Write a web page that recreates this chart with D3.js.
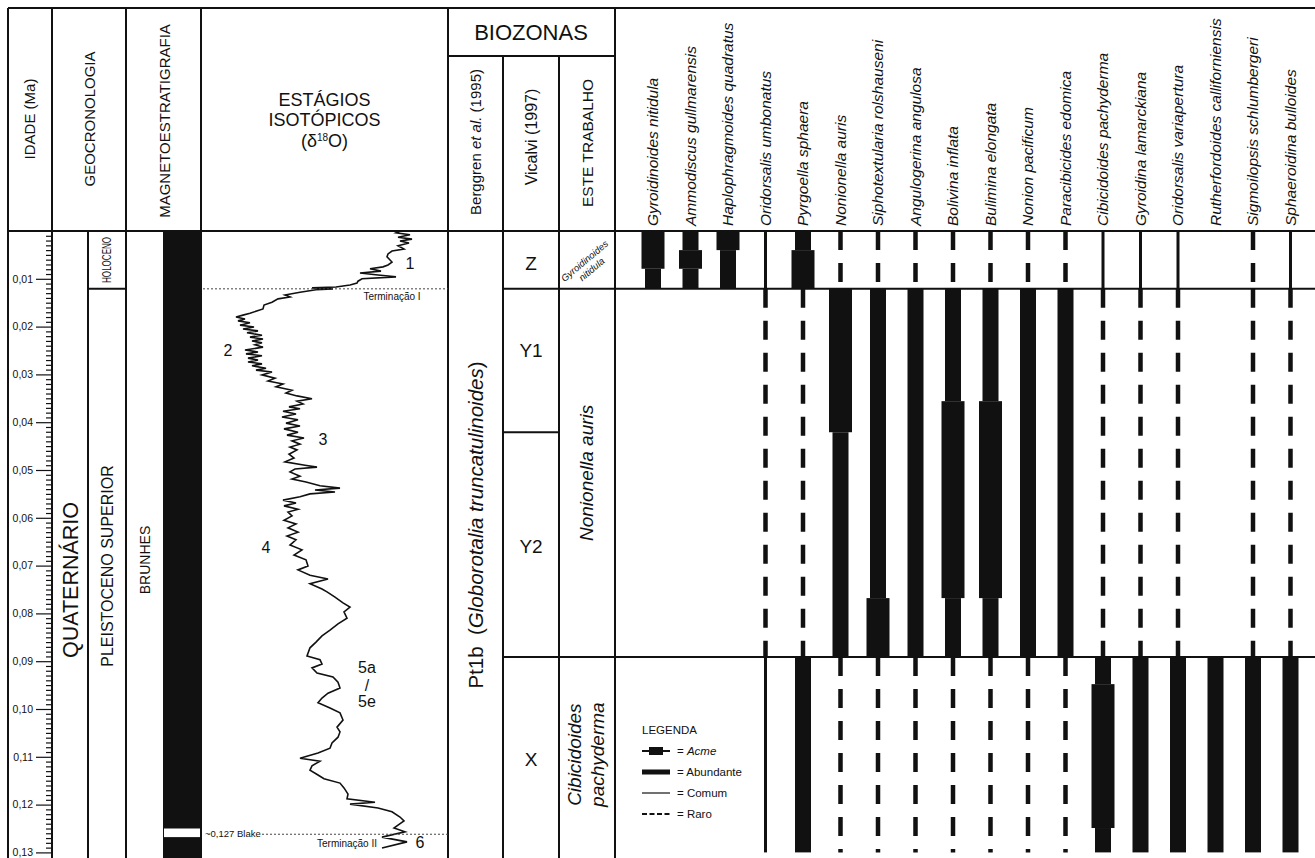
<!DOCTYPE html>
<html>
<head>
<meta charset="utf-8">
<script src="https://cdn.jsdelivr.net/npm/d3@7"></script>
<style>
  body { margin: 0; background: #fff; }
  text { font-family: "Liberation Sans", Arial, sans-serif; fill: #111; }
</style>
</head>
<body>
<svg id="chart" width="1315" height="858"></svg>
<script>
// ages in Ma
var ageTicks = [0.01, 0.02, 0.03, 0.04, 0.05, 0.06, 0.07, 0.08, 0.09, 0.10, 0.11, 0.12, 0.13];
var zoneNames = ['Z', 'Y1', 'Y2', 'X'];
var zoneTops = [0, 0.0121, 0.0421, 0.0891];
var zoneBases = [0.0121, 0.0421, 0.0891, 0.13];
var holoceneBase = 0.0121;
var blakeTop = 0.1250, blakeBase = 0.1268, blakeAge = 0.1262;

// d18O curve
var isoAge = [0.0000,0.0004,0.0008,0.0013,0.0017,0.0021,0.0025,0.0031,0.0038,0.0042,0.0048,0.0054,0.0065,0.0071,0.0075,0.0079,0.0084,0.0088,0.0092,0.0096,
  0.0100,0.0105,0.0109,0.0113,0.0117,0.0119,0.0121,0.0123,0.0128,0.0134,0.0138,0.0142,0.0149,0.0155,0.0163,0.0172,0.0176,0.0180,0.0184,0.0188,
  0.0192,0.0197,0.0201,0.0205,0.0209,0.0213,0.0218,0.0222,0.0226,0.0230,0.0234,0.0238,0.0243,0.0249,0.0253,0.0257,0.0261,0.0266,0.0270,0.0274,
  0.0278,0.0282,0.0287,0.0291,0.0295,0.0301,0.0308,0.0314,0.0320,0.0326,0.0333,0.0339,0.0345,0.0351,0.0356,0.0362,0.0368,0.0372,0.0377,0.0383,
  0.0389,0.0395,0.0402,0.0408,0.0414,0.0421,0.0427,0.0433,0.0439,0.0446,0.0452,0.0458,0.0467,0.0475,0.0483,0.0490,0.0494,0.0498,0.0504,0.0513,
  0.0519,0.0525,0.0533,0.0538,0.0542,0.0546,0.0550,0.0556,0.0563,0.0569,0.0575,0.0582,0.0588,0.0596,0.0605,0.0613,0.0621,0.0630,0.0638,0.0646,
  0.0657,0.0667,0.0678,0.0688,0.0701,0.0709,0.0720,0.0728,0.0738,0.0749,0.0755,0.0766,0.0778,0.0787,0.0797,0.0810,0.0822,0.0835,0.0847,0.0860,
  0.0872,0.0889,0.0897,0.0906,0.0914,0.0925,0.0933,0.0944,0.0956,0.0967,0.0977,0.0987,0.0998,0.1008,0.1023,0.1038,0.1048,0.1059,0.1071,0.1082,
  0.1092,0.1103,0.1109,0.1119,0.1128,0.1138,0.1146,0.1155,0.1165,0.1178,0.1188,0.1195,0.1199,0.1207,0.1215,0.1226,0.1234,0.1243,0.1249,0.1257,
  0.1268,0.1278,0.1291];
var isoD18O = [3.08,3.12,2.98,3.10,2.96,3.08,2.99,3.10,3.04,3.16,3.20,3.21,3.16,3.20,3.25,3.38,3.27,3.48,3.30,3.12,
  3.46,3.50,3.51,3.58,3.72,3.96,3.75,3.92,4.08,4.23,4.18,4.30,4.36,4.44,4.45,4.58,4.65,4.72,4.63,4.70,
  4.58,4.68,4.54,4.65,4.50,4.61,4.46,4.58,4.45,4.56,4.46,4.53,4.45,4.63,4.50,4.62,4.46,4.60,4.50,4.60,
  4.46,4.56,4.42,4.52,4.36,4.46,4.33,4.40,4.25,4.32,4.16,4.22,4.11,3.96,4.11,4.05,4.19,4.08,4.25,4.12,
  4.26,4.10,4.22,4.08,4.24,4.10,4.21,4.04,4.16,4.08,4.18,4.11,4.19,4.14,4.23,4.03,3.91,4.13,4.18,4.08,
  4.16,4.02,3.88,3.68,3.93,3.73,3.98,4.08,4.25,4.12,4.24,4.10,4.20,4.16,4.24,4.12,4.20,4.10,4.21,4.12,
  4.18,4.06,4.14,4.02,4.00,4.10,3.98,3.80,3.98,3.86,3.81,3.73,3.65,3.58,3.64,3.61,3.70,3.78,3.86,3.92,
  3.98,4.01,3.88,3.86,3.96,3.91,3.75,3.70,3.68,3.80,3.86,3.90,3.78,3.68,3.65,3.71,3.68,3.70,3.76,3.78,
  3.90,4.08,3.88,3.96,3.98,3.90,3.84,3.68,3.64,3.60,3.61,3.33,3.58,3.30,3.16,3.08,3.04,3.10,3.14,3.03,
  3.26,3.01,3.26];

var stageLabels = ['1', '2', '3', '4', '5a', '/', '5e', '6'];
var stageAge = [0.0067, 0.0249, 0.0437, 0.0661, 0.0912, 0.0950, 0.0985, 0.1280];
var stageD18O = [2.98, 4.80, 3.85, 4.42, 3.41, 3.41, 3.41, 2.88];

var species = ['Gyroidinoides nitidula', 'Ammodiscus gullmarensis', 'Haplophragmoides quadratus',
  'Oridorsalis umbonatus', 'Pyrgoella sphaera', 'Nonionella auris', 'Siphotextularia rolshauseni',
  'Angulogerina angulosa', 'Bolivina inflata', 'Bulimina elongata', 'Nonion pacificum',
  'Paracibicides edomica', 'Cibicidoides pachyderma', 'Gyroidina lamarckiana',
  'Oridorsalis variapertura', 'Rutherfordoides calliforniensis', 'Sigmoilopsis schlumbergeri',
  'Sphaeroidina bulloides'];

// [from, to, abundance] per species
var ranges = [
  [[0, 0.0079, 'acme'], [0.0079, 0.0121, 'abund']],
  [[0, 0.0040, 'abund'], [0.0040, 0.0079, 'acme'], [0.0079, 0.0121, 'abund']],
  [[0, 0.0040, 'acme'], [0.0040, 0.0121, 'abund']],
  [[0, 0.0121, 'comum'], [0.0121, 0.0891, 'raro'], [0.0891, 0.13, 'comum']],
  [[0, 0.0040, 'abund'], [0.0040, 0.0121, 'acme'], [0.0121, 0.0891, 'raro'], [0.0891, 0.13, 'abund']],
  [[0, 0.0121, 'raro'], [0.0121, 0.0421, 'acme'], [0.0421, 0.0891, 'abund'], [0.0891, 0.13, 'raro']],
  [[0, 0.0121, 'raro'], [0.0121, 0.0768, 'abund'], [0.0768, 0.0891, 'acme'], [0.0891, 0.13, 'raro']],
  [[0, 0.0121, 'raro'], [0.0121, 0.0891, 'abund'], [0.0891, 0.13, 'raro']],
  [[0, 0.0121, 'raro'], [0.0121, 0.0356, 'abund'], [0.0356, 0.0768, 'acme'], [0.0768, 0.0891, 'abund'], [0.0891, 0.13, 'raro']],
  [[0, 0.0121, 'raro'], [0.0121, 0.0356, 'abund'], [0.0356, 0.0768, 'acme'], [0.0768, 0.0891, 'abund'], [0.0891, 0.13, 'raro']],
  [[0, 0.0121, 'raro'], [0.0121, 0.0891, 'abund'], [0.0891, 0.13, 'raro']],
  [[0, 0.0121, 'raro'], [0.0121, 0.0891, 'abund'], [0.0891, 0.13, 'raro']],
  [[0, 0.0121, 'comum'], [0.0121, 0.0891, 'raro'], [0.0891, 0.0948, 'abund'], [0.0948, 0.1249, 'acme'], [0.1249, 0.13, 'abund']],
  [[0, 0.0121, 'comum'], [0.0121, 0.0891, 'raro'], [0.0891, 0.13, 'abund']],
  [[0, 0.0121, 'comum'], [0.0121, 0.0891, 'raro'], [0.0891, 0.13, 'abund']],
  [[0.0891, 0.13, 'abund']],
  [[0, 0.0121, 'raro'], [0.0121, 0.0891, 'raro'], [0.0891, 0.13, 'abund']],
  [[0, 0.0121, 'comum'], [0.0121, 0.0891, 'raro'], [0.0891, 0.13, 'abund']]
];

var legendKeys = ['acme', 'abund', 'comum', 'raro'];
var legendNames = ['Acme', 'Abundante', 'Comum', 'Raro'];

var svg = d3.select('#chart');
var top0 = 8, headBot = 231, bot = 858;
var y = d3.scaleLinear().domain([0, 0.13]).range([headBot, 852.4]);
var xIso = d3.scaleLinear().domain([5.0, 2.6]).range([208, 448]);
var xSp = d3.scalePoint().domain(species).range([653, 1290.5]);
var widths = {acme: 23, abund: 16, comum: 3};

function line(x1, y1, x2, y2, w){
  return svg.append('line').attr('x1', x1).attr('y1', y1).attr('x2', x2).attr('y2', y2)
    .attr('stroke', '#111').attr('stroke-width', w || 2);
}
function vtext(x, cy, str, size, italic){
  return svg.append('text').attr('transform', 'translate(' + x + ',' + cy + ')rotate(-90)')
    .attr('text-anchor', 'middle').style('font-size', size + 'px')
    .style('font-style', italic ? 'italic' : 'normal').text(str);
}

// frame
line(8, top0, 1315, top0);
line(8, headBot, 1315, headBot);
line(448, 56, 615, 56);
[8, 52, 126, 201, 448, 615].forEach(function(x){ line(x, top0, x, bot); });
[503, 559].forEach(function(x){ line(x, 56, x, bot); });
line(88, headBot, 88, bot);
line(88, y(holoceneBase), 126, y(holoceneBase));
line(503, y(zoneTops[1]), 1315, y(zoneTops[1]));
line(503, y(zoneTops[2]), 559, y(zoneTops[2]));
line(503, y(zoneTops[3]), 1315, y(zoneTops[3]));

// headers
vtext(35, 119, 'IDADE (Ma)', 15);
vtext(95, 119, 'GEOCRONOLOGIA', 15);
vtext(170, 121, 'MAGNETOESTRATIGRAFIA', 15);
svg.append('text').attr('x', 324.5).attr('y', 106).attr('text-anchor', 'middle').style('font-size', '18px').text('ESTÁGIOS');
svg.append('text').attr('x', 324.5).attr('y', 126).attr('text-anchor', 'middle').style('font-size', '18px').text('ISOTÓPICOS');
var d18 = svg.append('text').attr('x', 324.5).attr('y', 147).attr('text-anchor', 'middle').style('font-size', '18px');
d18.append('tspan').text('(δ');
d18.append('tspan').attr('dy', -6).style('font-size', '10px').text('18');
d18.append('tspan').attr('dy', 6).text('O)');
svg.append('text').attr('x', 531).attr('y', 40).attr('text-anchor', 'middle').style('font-size', '22px').text('BIOZONAS');
var bg = vtext(481, 142, '', 15);
bg.append('tspan').text('Berggren ');
bg.append('tspan').style('font-style', 'italic').text('et al.');
bg.append('tspan').text(' (1995)');
vtext(537, 137, 'Vicalvi (1997)', 16);
vtext(593, 143, 'ESTE TRABALHO', 15.5);

// species names
svg.selectAll('text.sp').data(species).enter().append('text')
  .attr('class', 'sp')
  .attr('transform', function(d){ return 'translate(' + (xSp(d) + 5) + ',226)rotate(-90)'; })
  .style('font-size', '15.5px').style('font-style', 'italic')
  .text(function(d){ return d; });

// age axis
var minor = d3.range(1, 131).map(function(i){ return i / 1000; }).filter(function(d, i){ return (i + 1) % 10 !== 0; });
var axMinor = svg.append('g').attr('transform', 'translate(52,0)')
  .call(d3.axisLeft(y).tickValues(minor).tickSize(6).tickFormat(''));
var axMajor = svg.append('g').attr('transform', 'translate(52,0)')
  .call(d3.axisLeft(y).tickValues(ageTicks).tickSize(16).tickPadding(3)
    .tickFormat(function(d){ return d3.format('.2f')(d).replace('.', ','); }));
svg.selectAll('.domain').remove();
svg.selectAll('.tick line').attr('stroke', '#111').attr('stroke-width', 1.2);
axMajor.selectAll('text').style('font-size', '10.5px').style('font-family', '"Liberation Sans", Arial, sans-serif');

// geochronology
vtext(78, 580, 'QUATERNÁRIO', 21.5);
svg.append('text').attr('transform', 'translate(111,' + ((y(0) + y(holoceneBase)) / 2) + ')rotate(-90)scale(0.62,1)')
  .attr('text-anchor', 'middle').style('font-size', '13px').text('HOLOCENO');
vtext(113, 566, 'PLEISTOCENO SUPERIOR', 16);

// magnetostratigraphy
svg.append('rect').attr('x', 163).attr('y', y(0)).attr('width', 38).attr('height', bot - y(0)).attr('fill', '#111');
svg.append('rect').attr('x', 164).attr('y', y(blakeTop)).attr('width', 36).attr('height', y(blakeBase) - y(blakeTop))
  .attr('fill', '#fff');
vtext(150, 560, 'BRUNHES', 14);

// isotope curve
var isoPts = isoAge.map(function(a, i){ return [a, isoD18O[i]]; });
svg.append('path').datum(isoPts)
  .attr('d', d3.line().x(function(d){ return xIso(d[1]); }).y(function(d){ return y(d[0]); }))
  .attr('fill', 'none').attr('stroke', '#111').attr('stroke-width', 1.6).attr('stroke-linejoin', 'miter');
svg.selectAll('text.stage').data(stageLabels).enter().append('text')
  .attr('class', 'stage')
  .attr('x', function(d, i){ return xIso(stageD18O[i]); })
  .attr('y', function(d, i){ return y(stageAge[i]); })
  .attr('dy', '0.35em').attr('text-anchor', 'middle').style('font-size', '16px')
  .text(function(d){ return d; });
line(203, y(zoneTops[1]), 448, y(zoneTops[1]), 1).attr('stroke', '#444').attr('stroke-dasharray', '2,2');
svg.append('text').attr('x', 392).attr('y', y(zoneTops[1]) + 11).attr('text-anchor', 'middle').style('font-size', '10px').text('Terminação I');
line(262, y(blakeAge), 448, y(blakeAge), 1).attr('stroke', '#444').attr('stroke-dasharray', '2,2');
svg.append('text').attr('x', 205).attr('y', y(blakeAge) + 3).style('font-size', '9.5px').text('~0,127 Blake');
svg.append('text').attr('x', 347).attr('y', y(blakeAge) + 13).attr('text-anchor', 'middle').style('font-size', '10px').text('Terminação II');

// biozones
var bz = vtext(483, 525, '', 20.5);
bz.append('tspan').text('Pt1b\u00a0\u00a0(');
bz.append('tspan').style('font-style', 'italic').text('Globorotalia truncatulinoides');
bz.append('tspan').text(')');
svg.selectAll('text.zone').data(zoneNames).enter().append('text')
  .attr('class', 'zone')
  .attr('x', 531)
  .attr('y', function(d, i){ return i === 0 ? y(zoneTops[i]) + 32 : y(zoneTops[i]) + ([0, 62, 114, 102][i]); })
  .attr('dy', '0.35em').attr('text-anchor', 'middle').style('font-size', '19px')
  .text(function(d){ return d; });
var gz = svg.append('g').attr('transform', 'translate(588,' + (y(0) + 34) + ')rotate(-40)');
gz.append('text').attr('y', -2).attr('text-anchor', 'middle').style('font-size', '9.5px').style('font-style', 'italic').text('Gyroidinoides');
gz.append('text').attr('y', 9).attr('text-anchor', 'middle').style('font-size', '9.5px').style('font-style', 'italic').text('nitidula');
vtext(593, (y(zoneTops[1]) + y(zoneBases[2])) / 2, 'Nonionella auris', 19).style('font-style', 'italic');
vtext(581, (y(zoneTops[3]) + y(0.13)) / 2, 'Cibicidoides', 19).style('font-style', 'italic');
vtext(604, (y(zoneTops[3]) + y(0.13)) / 2, 'pachyderma', 19).style('font-style', 'italic');

// occurrence ranges
species.forEach(function(sp, i){
  var cx = xSp(sp);
  ranges[i].forEach(function(r){
    if (r[2] === 'raro') {
      line(cx, y(r[0]), cx, y(r[1]), 4.5).attr('stroke-dasharray', '19,13');
    } else {
      var w = widths[r[2]];
      svg.append('rect').attr('x', cx - w / 2).attr('y', y(r[0])).attr('width', w)
        .attr('height', y(r[1]) - y(r[0])).attr('fill', '#111');
    }
  });
});

// legend
var lgX = 642, lgY = 734;
svg.append('text').attr('x', lgX).attr('y', lgY).style('font-size', '11.5px').text('LEGENDA');
legendKeys.forEach(function(k, i){
  var cy = lgY + 17 + i * 21;
  if (k === 'acme') {
    line(lgX, cy, lgX + 28, cy, 2);
    svg.append('rect').attr('x', lgX + 7).attr('y', cy - 4).attr('width', 14).attr('height', 8).attr('fill', '#111');
  } else if (k === 'abund') {
    svg.append('rect').attr('x', lgX).attr('y', cy - 2.5).attr('width', 28).attr('height', 5).attr('fill', '#111');
  } else if (k === 'comum') {
    line(lgX, cy, lgX + 28, cy, 1.2);
  } else {
    line(lgX, cy, lgX + 28, cy, 1.8).attr('stroke-dasharray', '5,2.5');
  }
  var t = svg.append('text').attr('x', lgX + 35).attr('y', cy).attr('dy', '0.35em').style('font-size', '11.5px');
  t.append('tspan').text('= ');
  t.append('tspan').style('font-style', k === 'acme' ? 'italic' : 'normal').text(legendNames[i]);
});
</script>
</body>
</html>
